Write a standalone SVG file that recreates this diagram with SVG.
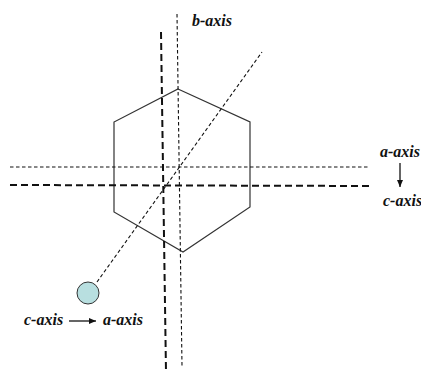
<svg xmlns="http://www.w3.org/2000/svg" width="421" height="374" viewBox="0 0 421 374">
<style>
.lbl{font-family:'Liberation Serif','Times New Roman','DejaVu Serif',serif;font-style:italic;font-weight:bold;font-size:16px;fill:#111}
.thick{stroke:#111;stroke-width:2;stroke-dasharray:7,4;fill:none}
.thin{stroke:#111;stroke-width:1.1;stroke-dasharray:3.5,2.5;fill:none}
.arr{stroke:#111;stroke-width:1.3;fill:none}
</style>
<defs>
<marker id="ah" markerWidth="8" markerHeight="8" refX="7" refY="4" orient="auto" markerUnits="userSpaceOnUse">
<path d="M0,1 L7,4 L0,7 Z" fill="#111"/>
</marker>
</defs>
<rect width="421" height="374" fill="#fff"/>
<g id="hexagon">
<polygon points="178,89 250,122 250,207 183,252 114,212 114,122" fill="none" stroke="#333" stroke-width="1.2"/>
</g>
<g id="connectors">
<line class="thick" x1="161" y1="32" x2="166" y2="372"/>
<line class="thin" x1="177" y1="14" x2="182" y2="366"/>
<line class="thin" x1="10" y1="167" x2="370" y2="167"/>
<line class="thick" x1="10" y1="185" x2="372" y2="186"/>
<line class="thin" x1="97" y1="282" x2="262" y2="52"/>
<line class="arr" x1="400" y1="163" x2="400" y2="187" marker-end="url(#ah)"/>
<line class="arr" x1="69" y1="321" x2="96" y2="321" marker-end="url(#ah)"/>
</g>
<g id="circle">
<circle cx="88" cy="293" r="11" fill="#b8dfe0" stroke="#333" stroke-width="1"/>
</g>
<g id="labels">
<text class="lbl" x="192" y="26">b-axis</text>
<text class="lbl" x="380" y="157">a-axis</text>
<text class="lbl" x="383" y="206">c-axis</text>
<text class="lbl" x="24" y="325">c-axis</text>
<text class="lbl" x="103" y="325">a-axis</text>
</g>
</svg>
